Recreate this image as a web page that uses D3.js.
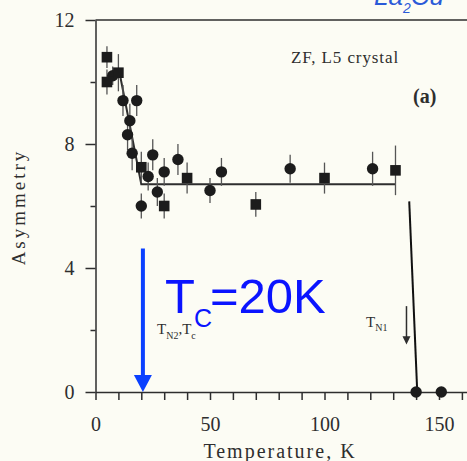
<!DOCTYPE html>
<html>
<head>
<meta charset="utf-8">
<script src="https://cdn.jsdelivr.net/npm/d3@7"></script>
<style>
  body { margin: 0; background: #fcfcf4; }
  svg { display: block; }
</style>
</head>
<body>
<svg width="467" height="461"></svg>
<script>
// data: temperature (K), asymmetry, error
var circleT   = [7.5, 12, 14, 15, 16, 18, 20, 23, 25, 27, 30, 36, 50, 55, 85, 121, 140, 151];
var circleA   = [10.2, 9.4, 8.3, 8.75, 7.7, 9.4, 6.0, 6.95, 7.65, 6.45, 7.1, 7.5, 6.5, 7.1, 7.2, 7.2, 0, 0];
var circleErr = [0.3, 0.5, 0.5, 0.55, 0.55, 0.5, 0.4, 0.45, 0.5, 0.45, 0.45, 0.5, 0.4, 0.45, 0.45, 0.55, 0, 0];

var squareT   = [5, 5, 10, 20, 30, 40, 70, 100, 131];
var squareA   = [10.8, 10.0, 10.3, 7.25, 6.0, 6.9, 6.05, 6.9, 7.15];
var squareErr = [0.35, 0.4, 0.6, 0.5, 0.4, 0.5, 0.4, 0.5, 0.8];

// fitted guide lines
var fitT  = [10.5, 20, 131];
var fitA  = [10.3, 6.7, 6.7];
var dropT = [137, 140.5];
var dropA = [6.15, 0];

var xTicks = [0, 10, 20, 30, 40, 50, 60, 70, 80, 90, 100, 110, 120, 130, 140, 150, 160];
var xLabels = [0, 50, 100, 150];
var yTicks = [0, 2, 4, 6, 8, 10, 12];
var yLabels = [0, 4, 8, 12];

var svg = d3.select('svg');
var ink = '#2e2e2e';
var serif = '"Liberation Serif", "Times New Roman", serif';

svg.append('rect')
    .attr('width', 467).attr('height', 461)
    .attr('fill', '#fcfcf4');

var x = d3.scaleLinear().domain([0, 165]).range([95.5, 95.5 + 2.29 * 165]);
var y = d3.scaleLinear().domain([0, 12]).range([392, 20]);

// axes
var xAxis = d3.axisBottom(x)
    .tickValues(xTicks)
    .tickSize(8)
    .tickSizeOuter(0)
    .tickPadding(17)
    .tickFormat(function(d) { return xLabels.indexOf(d) >= 0 ? d : ''; });

var yAxis = d3.axisLeft(y)
    .tickValues(yTicks)
    .tickSize(10)
    .tickSizeOuter(0)
    .tickPadding(11)
    .tickFormat(function(d) { return yLabels.indexOf(d) >= 0 ? d : ''; });

var gx = svg.append('g')
    .attr('transform', 'translate(0,' + y(0) + ')')
    .call(xAxis);

var gy = svg.append('g')
    .attr('transform', 'translate(' + x(0) + ',0)')
    .call(yAxis);

// minor y ticks are shorter
gy.selectAll('.tick line')
    .attr('x2', function(d) { return yLabels.indexOf(d) >= 0 ? -10 : -5; });

[gx, gy].forEach(function(g) {
    g.selectAll('path, line').attr('stroke', ink).attr('stroke-width', 1.5);
    g.selectAll('text')
        .attr('fill', ink)
        .style('font-family', serif)
        .style('font-size', '20px');
});

// top frame
svg.append('line')
    .attr('x1', x(0)).attr('x2', x(165))
    .attr('y1', y(12)).attr('y2', y(12))
    .attr('stroke', ink).attr('stroke-width', 1.5);

// axis titles
svg.append('text')
    .attr('x', 280).attr('y', 458)
    .attr('text-anchor', 'middle')
    .style('font-family', serif)
    .style('font-size', '20px')
    .style('letter-spacing', '2px')
    .attr('fill', ink)
    .text('Temperature, K');

svg.append('text')
    .attr('transform', 'translate(25,207) rotate(-90)')
    .attr('text-anchor', 'middle')
    .style('font-family', serif)
    .style('font-size', '19px')
    .style('letter-spacing', '3px')
    .attr('fill', ink)
    .text('Asymmetry');

// fit lines
var line = d3.line()
    .x(function(d) { return x(d[0]); })
    .y(function(d) { return y(d[1]); });

svg.append('path')
    .datum(d3.zip(fitT, fitA))
    .attr('d', line)
    .attr('fill', 'none')
    .attr('stroke', ink)
    .attr('stroke-width', 2);

svg.append('path')
    .datum(d3.zip(dropT, dropA))
    .attr('d', line)
    .attr('fill', 'none')
    .attr('stroke', '#111')
    .attr('stroke-width', 2);

// error bars
var circles = d3.zip(circleT, circleA, circleErr);
var squares = d3.zip(squareT, squareA, squareErr);

svg.append('g').selectAll('line')
    .data(circles.concat(squares).filter(function(d) { return d[2] > 0; }))
    .enter().append('line')
    .attr('x1', function(d) { return x(d[0]); })
    .attr('x2', function(d) { return x(d[0]); })
    .attr('y1', function(d) { return y(d[1] + d[2]); })
    .attr('y2', function(d) { return y(d[1] - d[2]); })
    .attr('stroke', '#555')
    .attr('stroke-width', 1.3);

// markers
svg.append('g').selectAll('circle')
    .data(circles)
    .enter().append('circle')
    .attr('cx', function(d) { return x(d[0]); })
    .attr('cy', function(d) { return y(d[1]); })
    .attr('r', 5.7)
    .attr('fill', '#1c1c1c');

svg.append('g').selectAll('rect')
    .data(squares)
    .enter().append('rect')
    .attr('x', function(d) { return x(d[0]) - 5.3; })
    .attr('y', function(d) { return y(d[1]) - 5.3; })
    .attr('width', 10.6)
    .attr('height', 10.6)
    .attr('fill', '#1c1c1c');

// labels inside the plot
svg.append('text')
    .attr('x', 291).attr('y', 63)
    .style('font-family', serif)
    .style('font-size', '17px')
    .style('letter-spacing', '0.9px')
    .attr('fill', ink)
    .text('ZF, L5 crystal');

svg.append('text')
    .attr('x', 413).attr('y', 103)
    .style('font-family', serif)
    .style('font-size', '20px')
    .style('font-weight', 'bold')
    .attr('fill', ink)
    .text('(a)');

var tn2 = svg.append('text')
    .attr('x', 157).attr('y', 334)
    .style('font-family', serif)
    .style('font-size', '15px')
    .attr('fill', ink);
tn2.append('tspan').text('T');
tn2.append('tspan').attr('dy', 5).style('font-size', '10px').text('N2');
tn2.append('tspan').attr('dy', -5).text(',T');
tn2.append('tspan').attr('dy', 5).style('font-size', '10px').text('c');

var tn1 = svg.append('text')
    .attr('x', 366).attr('y', 327)
    .style('font-family', serif)
    .style('font-size', '15px')
    .attr('fill', ink);
tn1.append('tspan').text('T');
tn1.append('tspan').attr('dy', 4).style('font-size', '10px').text('N1');

// T_N1 arrow
var tn1x = x(135.8);
svg.append('line')
    .attr('x1', tn1x).attr('x2', tn1x)
    .attr('y1', y(2.77)).attr('y2', y(1.75))
    .attr('stroke', ink).attr('stroke-width', 1.5);
svg.append('path')
    .attr('d', 'M' + (tn1x - 4) + ',' + (y(1.8)) + 'L' + (tn1x + 4) + ',' + y(1.8) +
               'L' + tn1x + ',' + y(1.53) + 'Z')
    .attr('fill', ink);

// blue annotation: Tc arrow and text
var blue = '#0a14ff';
var tcx = x(20.7);
svg.append('line')
    .attr('x1', tcx).attr('x2', tcx)
    .attr('y1', y(4.63)).attr('y2', y(0.45))
    .attr('stroke', '#0a40ff').attr('stroke-width', 4);
svg.append('path')
    .attr('d', 'M' + (tcx - 9) + ',' + y(0.55) + 'L' + (tcx + 9) + ',' + y(0.55) +
               'L' + tcx + ',' + y(0) + 'Z')
    .attr('fill', '#0a40ff');

var sans = '"Liberation Sans", Arial, sans-serif';
svg.append('text')
    .attr('x', 165).attr('y', 313)
    .style('font-family', sans).style('font-size', '49px')
    .attr('fill', blue)
    .text('T');
svg.append('text')
    .attr('x', 194).attr('y', 327)
    .style('font-family', sans).style('font-size', '25px')
    .attr('fill', blue)
    .text('C');
svg.append('text')
    .attr('x', 210).attr('y', 313)
    .style('font-family', sans).style('font-size', '49px')
    .attr('fill', blue)
    .text('=20K');

// handwritten note, cut off at the top as in the scan
var hand = svg.append('text')
    .attr('x', 374).attr('y', 5)
    .style('font-family', sans)
    .style('font-style', 'italic')
    .style('font-size', '26px')
    .attr('fill', '#2a5ad8');
hand.append('tspan').text('La');
hand.append('tspan').attr('dy', 8).style('font-size', '14px').text('2');
hand.append('tspan').attr('dy', -8).text('Cu');
</script>
</body>
</html>
